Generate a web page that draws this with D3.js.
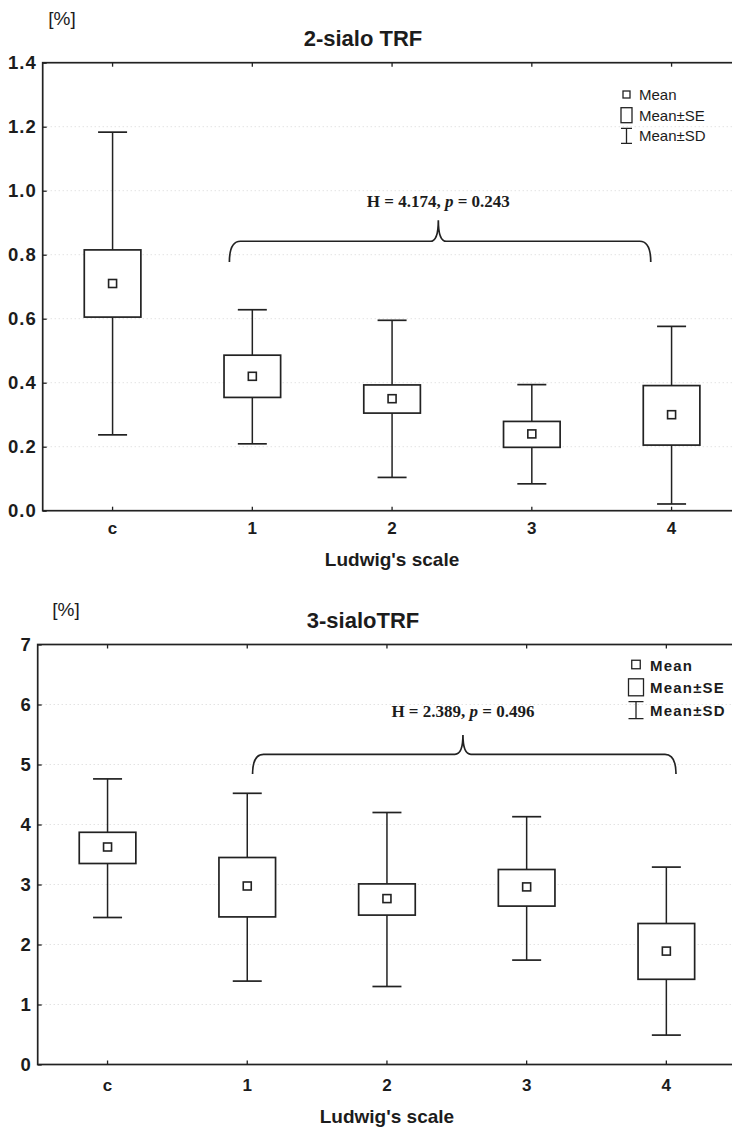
<html lang="en">
<head>
<meta charset="utf-8">
<script src="https://d3js.org/d3.v7.min.js"></script>
<style>
  body { margin: 0; background: #fff; }
  text { fill: #1c1c1c; }
  .tick text { font-family: "Liberation Sans", Arial, sans-serif; font-weight: bold; }
</style>
</head>
<body>
<div id="graph"></div>
<script>

// Ludwig's scale groups
var cats = ["c", "1", "2", "3", "4"];

// 2-sialo TRF [%]
var mean2 = [0.71, 0.42, 0.35, 0.24, 0.30];
var seLo2 = [0.605, 0.354, 0.305, 0.198, 0.205];
var seHi2 = [0.815, 0.486, 0.393, 0.279, 0.391];
var sdLo2 = [0.237, 0.209, 0.104, 0.084, 0.021];
var sdHi2 = [1.183, 0.628, 0.595, 0.394, 0.576];
var ticks2 = [0, 0.2, 0.4, 0.6, 0.8, 1.0, 1.2, 1.4];
var stat2 = "4.174", pval2 = "0.243";

// 3-sialo TRF [%]
var mean3 = [3.625, 2.975, 2.765, 2.96, 1.89];
var seLo3 = [3.35, 2.46, 2.49, 2.64, 1.42];
var seHi3 = [3.87, 3.45, 3.01, 3.25, 2.35];
var sdLo3 = [2.45, 1.39, 1.30, 1.74, 0.49];
var sdHi3 = [4.76, 4.52, 4.20, 4.13, 3.29];
var ticks3 = [0, 1, 2, 3, 4, 5, 6, 7];
var stat3 = "2.389", pval3 = "0.496";

// bracket over groups 1..4 : [from, to, tip] in group units, [foot, level, top, label] in data units
var brace2 = [0.836, 3.851, 2.331, 0.777, 0.842, 0.908, 0.95];
var brace3 = [1.038, 4.069, 2.544, 4.84, 5.17, 5.49, 5.79];

var svg = d3.select('#graph').append('svg').attr('width', 732).attr('height', 1129);

function panel(o) {
  var x = d3.scaleBand().domain(cats).range([o.left, o.left + 5 * o.step]);
  var y = d3.scaleLinear().domain([0, o.ticks[o.ticks.length - 1]]).range([o.bottom, o.top]);
  var cx = function(d) { return x(d) + x.bandwidth() / 2; };
  var bx = function(v) { return x(cats[0]) + x.bandwidth() / 2 + v * x.bandwidth(); };
  var g = svg.append('g');

  // faint dotted grid
  g.selectAll('.grid').data(o.ticks.slice(1, -1)).enter().append('line')
    .attr('x1', o.left).attr('x2', o.left + 5 * o.step)
    .attr('y1', function(d) { return y(d); }).attr('y2', function(d) { return y(d); })
    .attr('stroke', '#d6d6d6').attr('stroke-dasharray', '1,3');

  g.append('rect').attr('x', o.left).attr('y', o.top)
    .attr('width', 5 * o.step).attr('height', o.bottom - o.top)
    .attr('fill', 'none').attr('stroke', '#222').attr('stroke-width', 1.7);

  var ya = g.append('g').attr('transform', 'translate(' + o.left + ',0)')
    .call(d3.axisLeft(y).tickValues(o.ticks).tickFormat(o.fmt).tickSizeInner(-4).tickSizeOuter(0).tickPadding(6));
  ya.selectAll('text').style('font-size', '18.5px').style('letter-spacing', '1px');

  var xa = g.append('g').attr('transform', 'translate(0,' + o.bottom + ')')
    .call(d3.axisBottom(x).tickSizeInner(-4).tickSizeOuter(0).tickPadding(o.xpad));
  xa.selectAll('text').style('font-size', '17px');

  g.append('g').attr('transform', 'translate(0,' + o.top + ')')
    .call(d3.axisTop(x).tickSizeInner(-4).tickSizeOuter(0).tickFormat(''));

  g.selectAll('.domain').remove();
  g.selectAll('.tick line').attr('stroke', '#222').attr('stroke-width', 1.3);

  // whiskers (mean +- SD)
  g.selectAll('.sd').data(cats).enter().append('line')
    .attr('x1', cx).attr('x2', cx)
    .attr('y1', function(d, i) { return y(o.sdLo[i]); })
    .attr('y2', function(d, i) { return y(o.sdHi[i]); })
    .attr('stroke', '#222').attr('stroke-width', 1.5);
  [o.sdLo, o.sdHi].forEach(function(arr) {
    g.selectAll(null).data(cats).enter().append('line')
      .attr('x1', function(d) { return cx(d) - 14.5; })
      .attr('x2', function(d) { return cx(d) + 14.5; })
      .attr('y1', function(d, i) { return y(arr[i]); })
      .attr('y2', function(d, i) { return y(arr[i]); })
      .attr('stroke', '#222').attr('stroke-width', 1.7);
  });

  // boxes (mean +- SE)
  g.selectAll('.se').data(cats).enter().append('rect')
    .attr('x', function(d) { return cx(d) - 28.3; }).attr('width', 56.6)
    .attr('y', function(d, i) { return y(o.seHi[i]); })
    .attr('height', function(d, i) { return y(o.seLo[i]) - y(o.seHi[i]); })
    .attr('fill', '#fff').attr('stroke', '#222').attr('stroke-width', 1.7);

  g.selectAll('.mean').data(cats).enter().append('rect')
    .attr('x', function(d) { return cx(d) - 4; }).attr('width', 8)
    .attr('y', function(d, i) { return y(o.mean[i]) - 4; }).attr('height', 8)
    .attr('fill', '#fff').attr('stroke', '#222').attr('stroke-width', 1.6);

  // curly brace with test result
  var b = o.brace, r = 11, c = 8;
  var x0 = bx(b[0]), x1 = bx(b[1]), xm = bx(b[2]);
  var yf = y(b[3]), yl = y(b[4]), yt = y(b[5]);
  g.append('path')
    .attr('d', 'M' + x0 + ',' + yf + 'Q' + x0 + ',' + yl + ' ' + (x0 + r) + ',' + yl +
      'L' + (xm - c) + ',' + yl + 'Q' + xm + ',' + yl + ' ' + xm + ',' + yt +
      'Q' + xm + ',' + yl + ' ' + (xm + c) + ',' + yl +
      'L' + (x1 - r) + ',' + yl + 'Q' + x1 + ',' + yl + ' ' + x1 + ',' + yf)
    .attr('fill', 'none').attr('stroke', '#222').attr('stroke-width', 1.7);
  var t = g.append('text').attr('x', xm).attr('y', y(b[6])).attr('text-anchor', 'middle')
    .style('font-family', '"Liberation Serif", "Times New Roman", serif')
    .style('font-weight', 'bold').style('font-size', '17px');
  t.append('tspan').text('H = ' + o.stat + ', ');
  t.append('tspan').style('font-style', 'italic').text('p');
  t.append('tspan').text(' = ' + o.pval);

  // titles
  g.append('text').attr('x', o.titleX).attr('y', o.titleY).attr('text-anchor', 'middle')
    .style('font-family', '"Liberation Sans", Arial, sans-serif').style('font-weight', 'bold')
    .style('font-size', '22px').text(o.title);
  g.append('text').attr('x', o.unitX).attr('y', o.unitY).attr('text-anchor', 'middle')
    .style('font-family', '"Liberation Sans", Arial, sans-serif').style('font-size', '19px').text('[%]');
  g.append('text').attr('x', o.left + 2.5 * o.step).attr('y', o.labelY).attr('text-anchor', 'middle')
    .style('font-family', '"Liberation Sans", Arial, sans-serif').style('font-weight', 'bold')
    .style('font-size', '19px').text("Ludwig's scale");

  // legend
  var L = o.legend;
  var lg = g.append('g');
  lg.append('rect').attr('x', L.ix - L.m / 2).attr('y', L.y0 - L.m / 2).attr('width', L.m).attr('height', L.m)
    .attr('fill', '#fff').attr('stroke', '#222').attr('stroke-width', 1.3);
  lg.append('rect').attr('x', L.ix - L.w / 2).attr('y', L.y0 + L.gap - L.h / 2).attr('width', L.w).attr('height', L.h)
    .attr('fill', '#fff').attr('stroke', '#222').attr('stroke-width', 1.3);
  var ys = L.y0 + 2 * L.gap;
  lg.append('path')
    .attr('d', 'M' + (L.ix - L.w / 2) + ',' + (ys - L.h / 2) + 'H' + (L.ix + L.w / 2) +
      'M' + L.ix + ',' + (ys - L.h / 2) + 'V' + (ys + L.h / 2) +
      'M' + (L.ix - L.w / 2) + ',' + (ys + L.h / 2) + 'H' + (L.ix + L.w / 2))
    .attr('fill', 'none').attr('stroke', '#222').attr('stroke-width', 1.3);
  lg.selectAll('text').data(['Mean', 'Mean\u00b1SE', 'Mean\u00b1SD']).enter().append('text')
    .attr('x', L.tx).attr('y', function(d, i) { return L.y0 + i * L.gap + L.dy; })
    .style('font-family', '"Liberation Sans", Arial, sans-serif')
    .style('font-weight', L.bold ? 'bold' : 'normal')
    .style('letter-spacing', L.bold ? '1.2px' : '0px')
    .style('font-size', L.size + 'px')
    .text(function(d) { return d; });
}

panel({
  left: 42.7, step: 139.75, top: 62.7, bottom: 510.7,
  ticks: ticks2, fmt: d3.format('.1f'), xpad: 11,
  mean: mean2, seLo: seLo2, seHi: seHi2, sdLo: sdLo2, sdHi: sdHi2,
  brace: brace2, stat: stat2, pval: pval2,
  title: '2-sialo TRF', titleX: 363, titleY: 46, unitX: 62, unitY: 25, labelY: 566,
  legend: { ix: 626.5, tx: 639, y0: 94.5, gap: 20.7, m: 7, w: 11, h: 15, dy: 5.5, size: 15, bold: false }
});

panel({
  left: 37.7, step: 139.7, top: 644.5, bottom: 1064.5,
  ticks: ticks3, fmt: d3.format('d'), xpad: 14,
  mean: mean3, seLo: seLo3, seHi: seHi3, sdLo: sdLo3, sdHi: sdHi3,
  brace: brace3, stat: stat3, pval: pval3,
  title: '3-sialoTRF', titleX: 363, titleY: 628, unitX: 66, unitY: 616, labelY: 1123,
  legend: { ix: 636, tx: 650, y0: 664.5, gap: 22.8, m: 8.5, w: 15, h: 17, dy: 6, size: 15, bold: true }
});

</script>
</body>
</html>
